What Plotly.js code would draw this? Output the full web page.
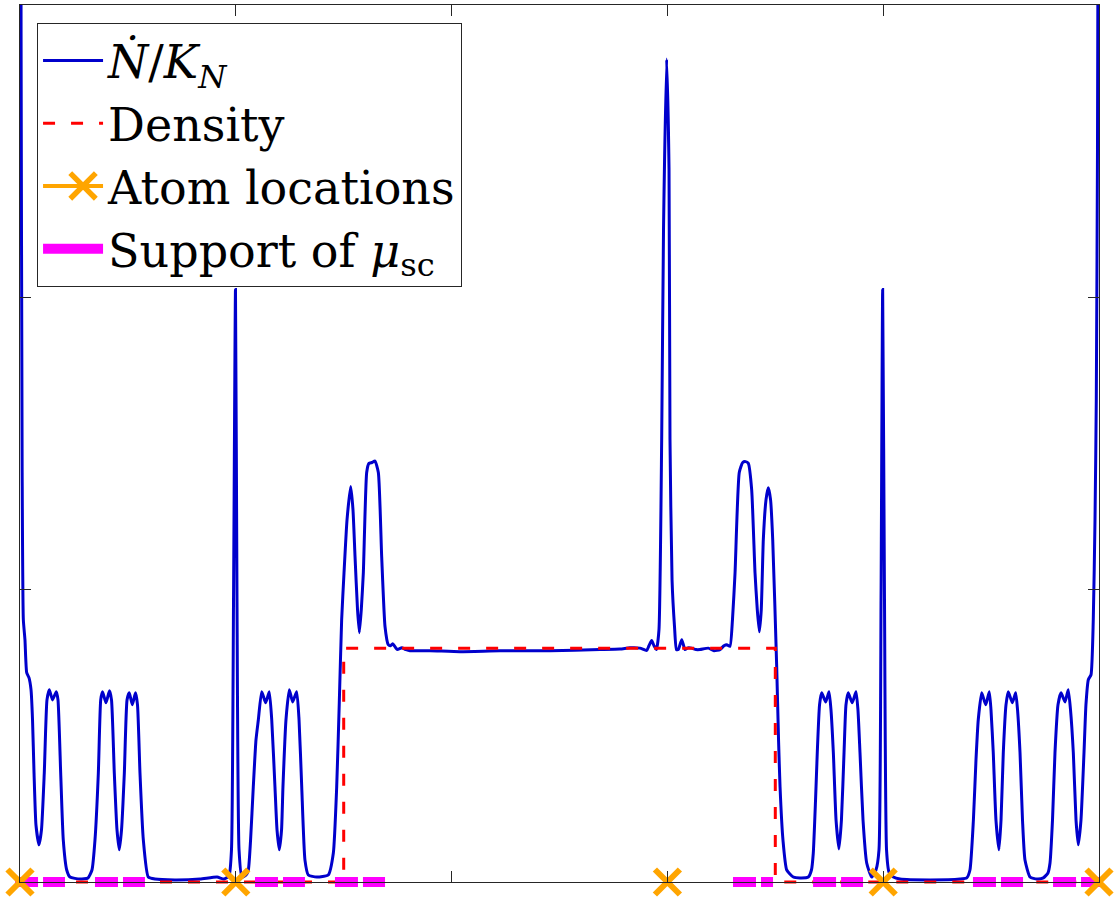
<!DOCTYPE html>
<html>
<head>
<meta charset="utf-8">
<script src="https://cdn.plot.ly/plotly-3.0.1.min.js"></script>
<style>html,body{margin:0;padding:0;background:#fff;}</style>
</head>
<body>
<div id="chart" style="width:1114px;height:901px;"></div>
<script>
// Ndot/K_N curve
const curveX = [
0.0000,0.0010,0.0020,0.0031,0.0046,0.0062,0.0083,0.0102,0.0116,0.0130,0.0148,0.0176,0.0199,0.0225,0.0250,0.0272,0.0301,0.0336,0.0352,0.0377,
0.0401,0.0433,0.0463,0.0556,0.0630,0.0667,0.0695,0.0726,0.0748,0.0765,0.0797,0.0829,0.0848,0.0874,0.0899,0.0920,0.0941,0.0967,0.0992,0.1013,
0.1041,0.1070,0.1089,0.1112,0.1143,0.1189,0.1251,0.1436,0.1668,0.1826,0.1891,0.1937,0.1960,0.1979,0.1997,0.2011,0.2030,0.2057,0.2095,0.2116,
0.2137,0.2162,0.2187,0.2209,0.2240,0.2277,0.2310,0.2333,0.2363,0.2382,0.2403,0.2424,0.2437,0.2465,0.2496,0.2527,0.2564,0.2586,0.2611,0.2641,
0.2672,0.2750,0.2857,0.2904,0.2935,0.2959,0.2981,0.3003,0.3031,0.3065,0.3086,0.3105,0.3128,0.3145,0.3163,0.3182,0.3213,0.3234,0.3262,0.3290,
0.3321,0.3352,0.3383,0.3413,0.3434,0.3454,0.3475,0.3497,0.3538,0.3577,0.3614,0.3800,0.4078,0.4449,0.4912,0.5375,0.5561,0.5653,0.5746,0.5808,
0.5829,0.5854,0.5876,0.5899,0.5922,0.5947,0.5964,0.5993,0.6015,0.6024,0.6043,0.6066,0.6084,0.6101,0.6133,0.6163,0.6191,0.6225,0.6265,0.6302,
0.6379,0.6432,0.6487,0.6524,0.6550,0.6580,0.6603,0.6627,0.6666,0.6698,0.6724,0.6750,0.6781,0.6812,0.6833,0.6852,0.6870,0.6889,0.6914,0.6935,
0.6956,0.6976,0.7013,0.7030,0.7044,0.7071,0.7106,0.7167,0.7229,0.7306,0.7335,0.7352,0.7373,0.7389,0.7410,0.7430,0.7467,0.7498,0.7516,0.7538,
0.7563,0.7590,0.7613,0.7637,0.7655,0.7676,0.7713,0.7748,0.7766,0.7785,0.7813,0.7847,0.7893,0.7933,0.7961,0.7980,0.7995,0.8012,0.8031,0.8054,
0.8094,0.8156,0.8434,0.8712,0.8774,0.8804,0.8836,0.8860,0.8881,0.8913,0.8950,0.8983,0.8999,0.9020,0.9045,0.9073,0.9092,0.9113,0.9138,0.9159,
0.9197,0.9228,0.9245,0.9268,0.9291,0.9314,0.9361,0.9425,0.9484,0.9527,0.9546,0.9569,0.9592,0.9620,0.9648,0.9685,0.9715,0.9736,0.9762,0.9787,
0.9808,0.9833,0.9861,0.9879,0.9901,0.9926,0.9947,0.9963,0.9975,0.9986,0.9995,1.0000
];
const curveY = [
6.000,2.900,1.400,0.897,0.829,0.716,0.699,0.658,0.555,0.373,0.195,0.127,0.178,0.373,0.623,0.658,0.623,0.651,0.623,0.373,
0.144,0.041,0.017,0.010,0.014,0.041,0.144,0.373,0.623,0.651,0.613,0.654,0.623,0.373,0.178,0.110,0.178,0.373,0.623,0.647,
0.606,0.647,0.606,0.373,0.144,0.017,0.010,0.007,0.010,0.017,0.010,0.021,0.110,0.966,2.027,0.966,0.110,0.017,0.024,0.041,
0.144,0.325,0.486,0.555,0.651,0.613,0.651,0.555,0.325,0.178,0.110,0.178,0.325,0.555,0.658,0.616,0.651,0.555,0.325,0.075,
0.024,0.017,0.024,0.099,0.325,0.613,0.897,1.058,1.240,1.353,1.274,1.113,0.932,0.853,0.932,1.058,1.401,1.432,1.435,1.440,
1.401,1.113,0.873,0.812,0.808,0.815,0.805,0.795,0.801,0.795,0.791,0.791,0.788,0.791,0.791,0.795,0.797,0.801,0.800,0.792,
0.808,0.826,0.808,0.795,0.863,1.514,2.233,2.815,2.438,1.514,1.034,0.873,0.795,0.795,0.829,0.795,0.801,0.800,0.795,0.795,
0.800,0.791,0.795,0.808,0.812,0.806,0.897,1.058,1.401,1.435,1.438,1.432,1.342,1.058,0.932,0.856,0.932,1.171,1.308,1.349,
1.308,1.171,0.736,0.486,0.325,0.144,0.041,0.017,0.014,0.017,0.041,0.099,0.281,0.442,0.606,0.647,0.616,0.651,0.589,0.442,
0.212,0.113,0.212,0.442,0.606,0.647,0.613,0.651,0.589,0.442,0.212,0.065,0.017,0.041,0.110,0.966,2.027,0.966,0.110,0.034,
0.017,0.010,0.007,0.010,0.014,0.041,0.212,0.418,0.555,0.647,0.606,0.651,0.589,0.442,0.212,0.110,0.212,0.442,0.606,0.651,
0.613,0.647,0.589,0.442,0.212,0.075,0.017,0.010,0.014,0.031,0.065,0.212,0.442,0.606,0.647,0.616,0.658,0.589,0.442,0.212,
0.127,0.212,0.442,0.606,0.692,0.709,0.897,1.240,1.651,2.507,4.000,6.000
];

// Density (piecewise constant)
const densityX = [0, 0.3, 0.3, 0.7, 0.7, 1];
const densityY = [0, 0, 0.8, 0.8, 0, 0];

// Atom locations
const atomX = [0, 0.2, 0.6, 0.8, 1];
const atomY = [0, 0, 0, 0, 0];

// Support of mu_sc (intervals, separated by gaps)
const supportX = [-0.0046, 0.0417, null, 0.0695, 0.1158, null, 0.2178, 0.2641, null, 0.2919, 0.3383, null,
                  0.6608, 0.6979, null, 0.7350, 0.7813, null, 0.8832, 0.9296, null, 0.9574, 1.0037];
const supportY = [0, 0, null, 0, 0, null, 0, 0, null, 0, 0, null,
                  0, 0, null, 0, 0, null, 0, 0, null, 0, 0];

const xTicks = [0.2, 0.4, 0.6, 0.8];
const yTicks = [1, 2];

const labels = ['<i>Ṅ</i>/<i>K</i><sub><i>N</i></sub>', 'Density', 'Atom locations', 'Support of <i>μ</i><sub>sc</sub>'];

const BLUE = '#0000CC', RED = '#FF0000', ORANGE = '#FFA500', MAGENTA = '#FF00FF';

const traces = [
  {x: curveX, y: curveY, mode: 'lines', name: labels[0], legendrank: 1,
   line: {color: BLUE, width: 3, shape: 'spline', smoothing: 0.5}},
  {x: densityX, y: densityY, mode: 'lines', name: labels[1], legendrank: 2, cliponaxis: false,
   line: {color: RED, width: 3, dash: '12px,16px'}},
  {x: supportX, y: supportY, mode: 'lines', name: labels[3], legendrank: 4, connectgaps: false, cliponaxis: false,
   line: {color: MAGENTA, width: 10, dash: '23px,5px'}},
  {x: atomX, y: atomY, mode: 'markers', showlegend: false, cliponaxis: false,
   marker: {symbol: 'x-thin', size: 25, color: ORANGE, line: {color: ORANGE, width: 6}}},
  {x: [null], y: [null], mode: 'lines+markers', name: labels[2], legendrank: 3,
   line: {color: ORANGE, width: 4},
   marker: {symbol: 'x-thin', size: 16, color: ORANGE, line: {color: ORANGE, width: 5}}}
];

const axisCommon = {
  showgrid: false, zeroline: false, showline: true, mirror: 'ticks',
  linecolor: '#262626', linewidth: 1.3, ticks: 'inside', ticklen: 11,
  tickwidth: 1, tickcolor: '#262626', showticklabels: false, fixedrange: true
};

const layout = {
  width: 1114, height: 901,
  margin: {l: 20, r: 15, t: 5, b: 19, pad: 0},
  paper_bgcolor: '#ffffff', plot_bgcolor: '#ffffff',
  xaxis: Object.assign({}, axisCommon, {range: [0, 1], tickvals: xTicks}),
  yaxis: Object.assign({}, axisCommon, {range: [0, 3], tickvals: yTicks}),
  showlegend: true,
  legend: {
    x: 0.0158, y: 0.9795, xanchor: 'left', yanchor: 'top',
    bgcolor: '#ffffff', bordercolor: '#262626', borderwidth: 1,
    font: {family: 'DejaVu Serif', size: 46, color: '#000000'},
    traceorder: 'normal', tracegroupgap: 0, itemwidth: 60
  }
};

Plotly.newPlot('chart', traces, layout, {displayModeBar: false, staticPlot: true}).then(function (gd) {
  // let the y=0 support band and density line show their full width at the bottom edge
  const groups = gd.querySelectorAll('.scatterlayer .trace');
  [1, 2].forEach(function (i) {
    const g = groups[i];
    if (!g) return;
    g.removeAttribute('clip-path');
    g.querySelectorAll('[clip-path]').forEach(function (el) { el.removeAttribute('clip-path'); });
  });
  gd.querySelectorAll('.legend .traces').forEach(function (t) {
    const txt = t.querySelector('.legendtext');
    if (!txt) return;
    // legend swatch of the support band is a solid bar, as in the reference
    if (txt.textContent.indexOf('Support') === 0) {
      t.querySelectorAll('.legendlines path').forEach(function (p) { p.style.strokeDasharray = 'none'; });
    }
    // larger cross in the atom-location swatch
    if (txt.textContent.indexOf('Atom') === 0) {
      t.querySelectorAll('.legendpoints path').forEach(function (p) {
        const tr = p.getAttribute('transform') || '';
        p.setAttribute('transform', tr + ' translate(10,0) scale(1.6)');
        p.style.strokeWidth = '3.4px';
      });
    }
  });
});
</script>
</body>
</html>
